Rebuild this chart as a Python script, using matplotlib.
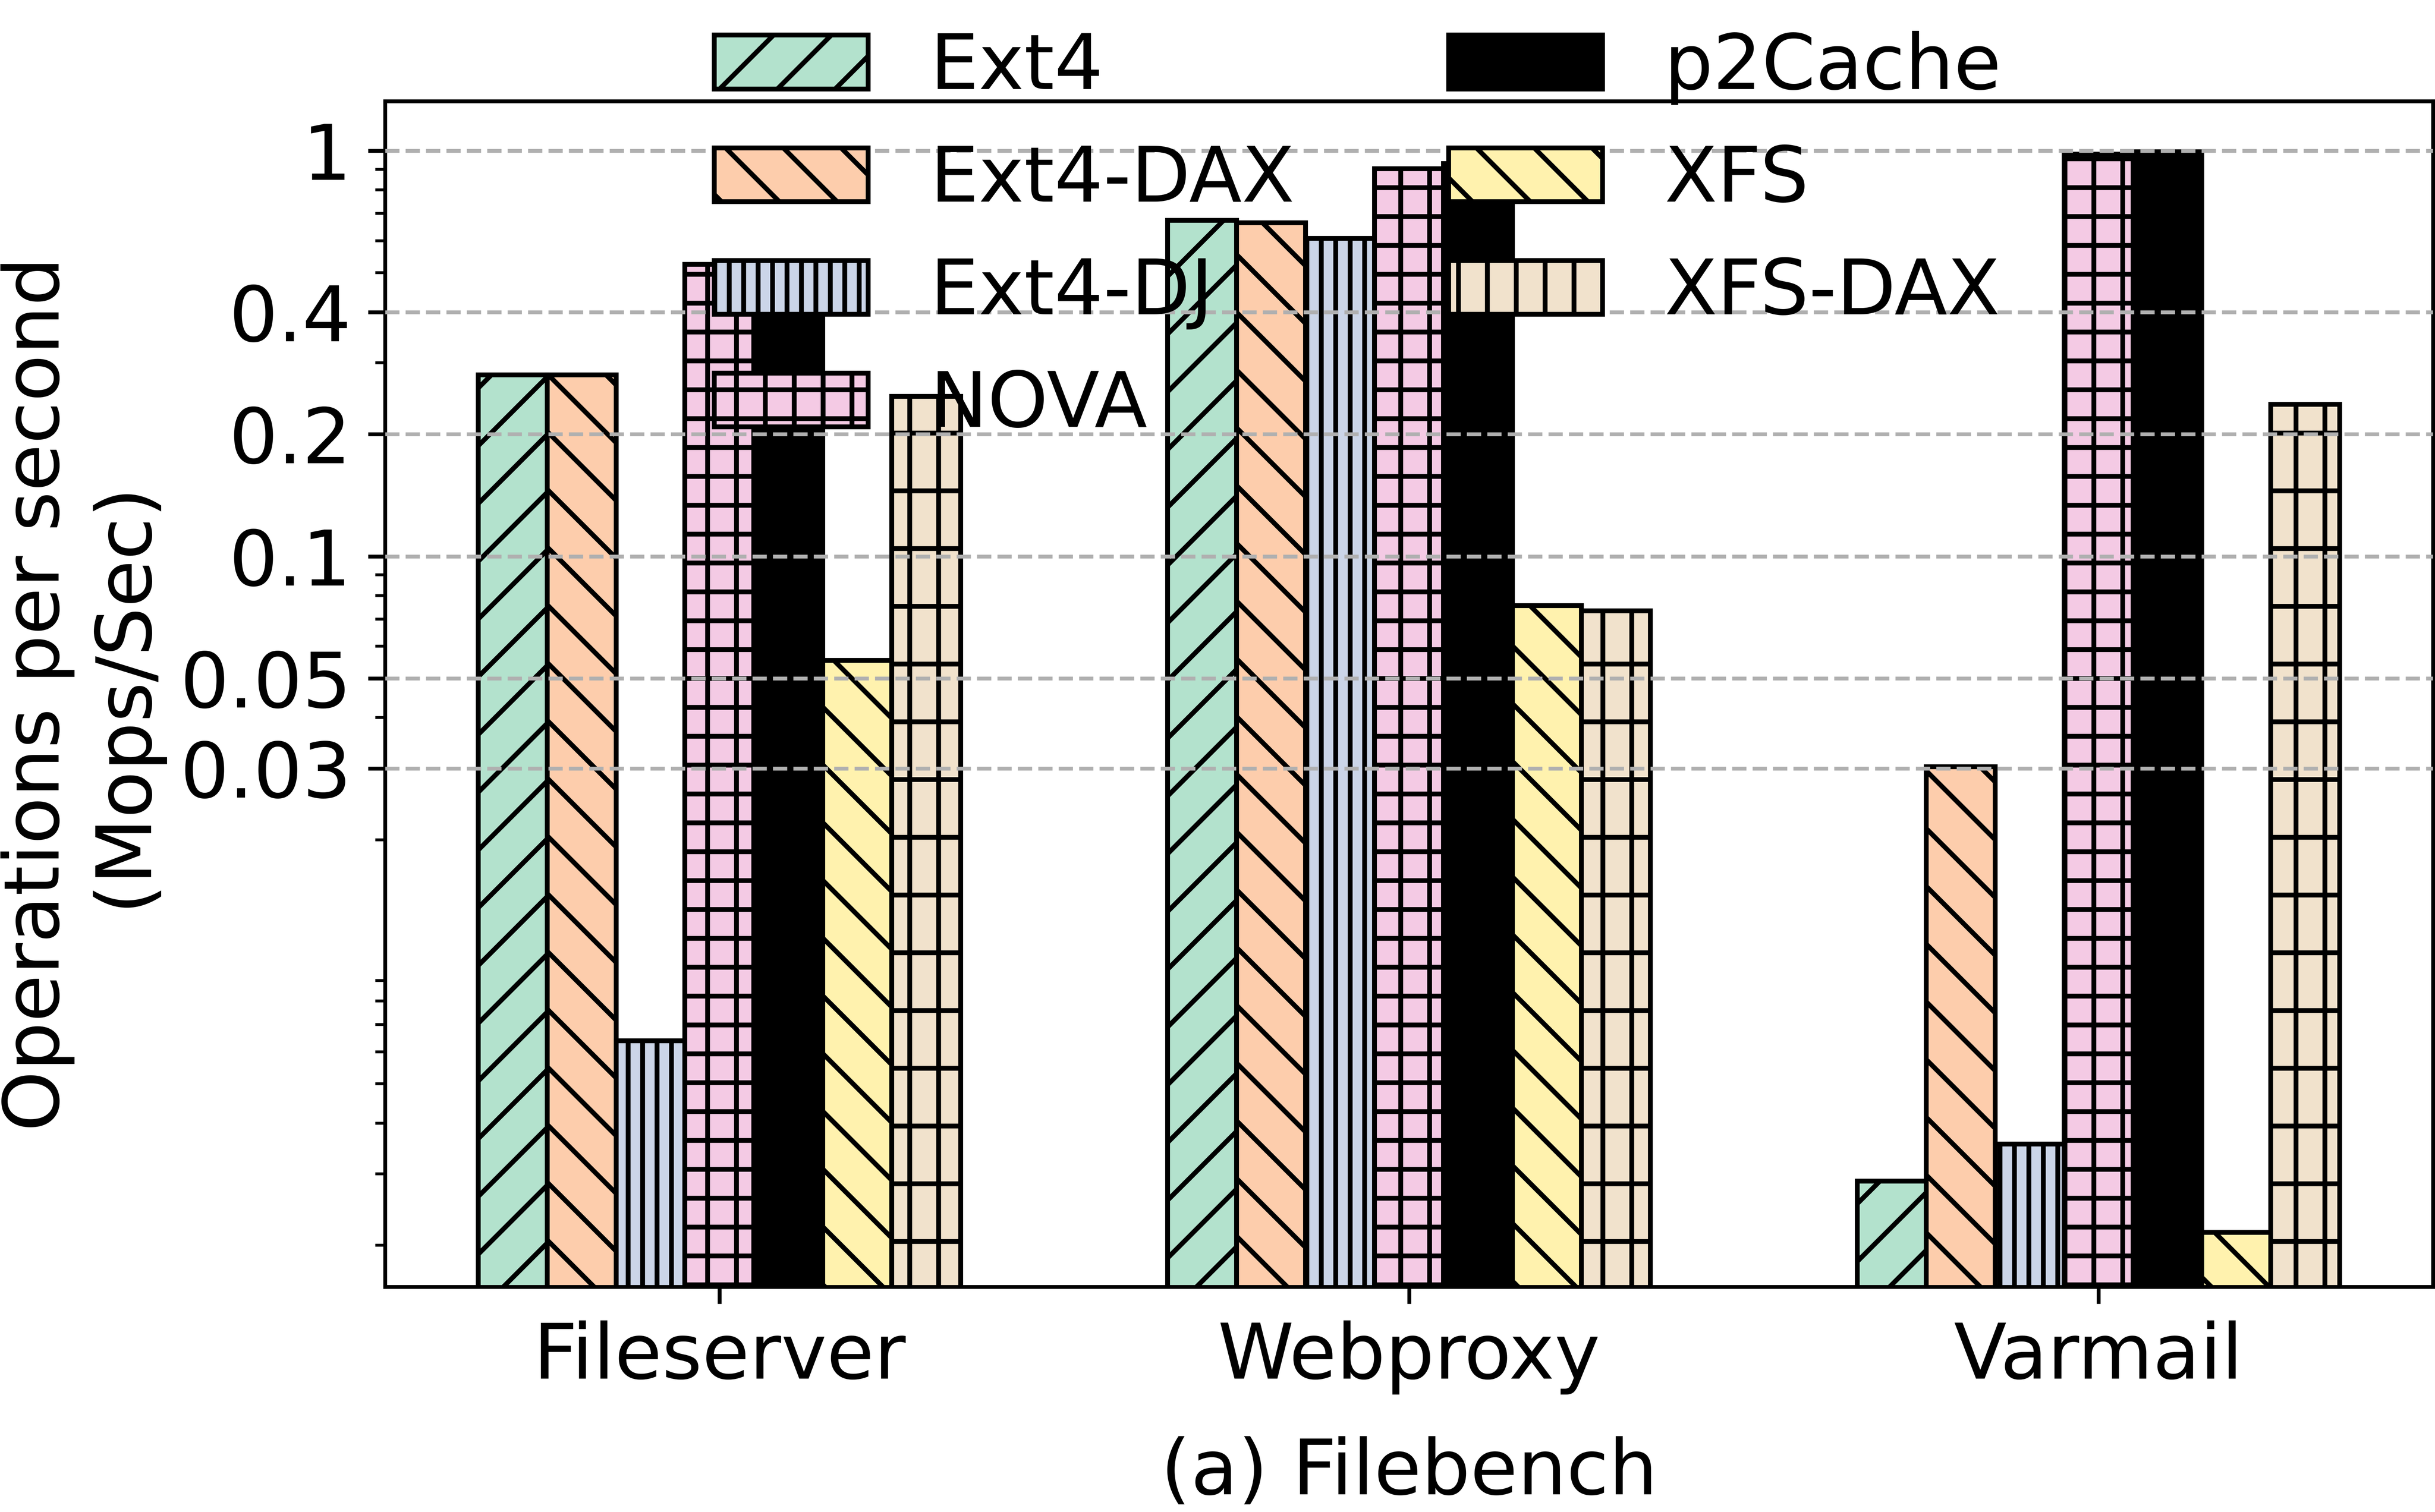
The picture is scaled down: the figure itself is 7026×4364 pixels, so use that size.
import matplotlib
matplotlib.use("Agg")
import matplotlib.pyplot as plt
import numpy as np
from matplotlib.ticker import NullFormatter

# ---- data ----
workloads = ["Fileserver", "Webproxy", "Varmail"]
systems = ["Ext4", "Ext4-DAX", "Ext4-DJ", "NOVA", "p2Cache", "XFS", "XFS-DAX"]
ext4 = [0.28, 0.674, 0.00288]
ext4_dax = [0.28, 0.664, 0.0303]
ext4_dj = [0.00638, 0.608, 0.00355]
nova = [0.525, 0.903, 0.981]
p2cache = [0.45, 0.93, 0.994]
xfs = [0.0554, 0.0756, 0.00215]
xfs_dax = [0.248, 0.0733, 0.237]
yticks = [0.03, 0.05, 0.1, 0.2, 0.4, 1]
ytick_labels = ["0.03", "0.05", "0.1", "0.2", "0.4", "1"]

series = [ext4, ext4_dax, ext4_dj, nova, p2cache, xfs, xfs_dax]
colors = ["#b3e2cd", "#fdcdac", "#cbd5e8", "#f4cae4", "#000000", "#fff2ae", "#f1e2cc"]
hatches = ["//", "\\\\", "||||", "++", "", "\\\\", "+|"]

plt.rcParams["font.family"] = ["DejaVu Sans"]
plt.rcParams["font.size"] = 16
plt.rcParams["hatch.linewidth"] = 1.0

W, H = 7026, 4364
DPI = 1000
fig = plt.figure(figsize=(W / DPI, H / DPI), dpi=DPI)
ax = fig.add_axes([1111 / W, 1 - 3714 / H, (7020 - 1111) / W, (3714 - 292) / H])

x = np.arange(len(workloads))
width = 0.1
for i, (name, vals) in enumerate(zip(systems, series)):
    ax.bar(x + (i - 3) * width, vals, width, label=name, color=colors[i],
           edgecolor="black", linewidth=1.0, hatch=hatches[i])

ax.set_yscale("log")
ax.set_ylim(0.00158, 1.325)
ax.set_yticks(yticks)
ax.set_yticklabels(ytick_labels)
ax.yaxis.set_minor_formatter(NullFormatter())
ax.set_xticks(x)
ax.set_xticklabels(workloads)
ax.tick_params(labelsize=16)
ax.grid(axis="y", which="major", linestyle="--", color="#b0b0b0", linewidth=0.8)
ax.set_axisbelow(False)

ax.set_ylabel("Operations per second\n(Mops/Sec)", fontsize=16)
ax.set_xlabel("(a) Filebench", fontsize=16, labelpad=8.6)

ax.legend(ncol=2, loc="upper left", bbox_to_anchor=(1861 / W, 1 + 111 / H),
          bbox_transform=fig.transFigure, frameon=False, fontsize=16)

fig.savefig("out.png", dpi=DPI)
